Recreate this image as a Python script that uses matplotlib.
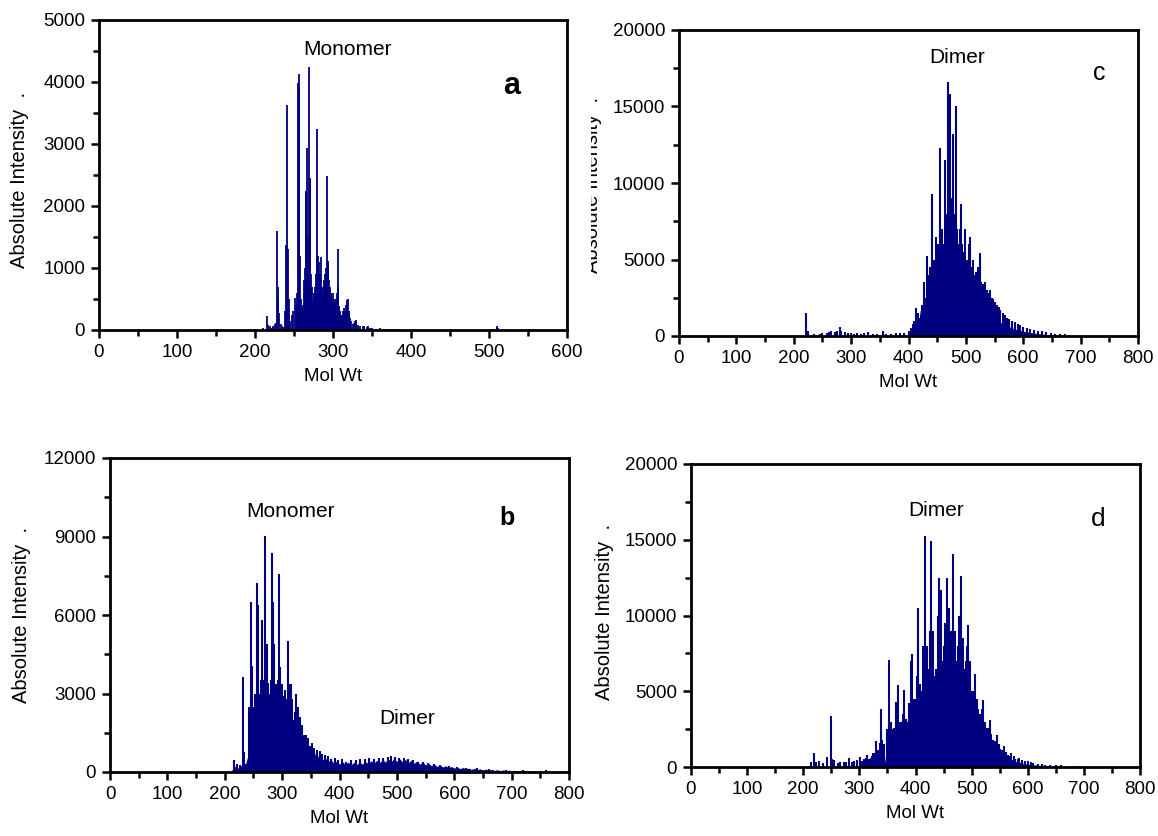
import numpy as np
import matplotlib.pyplot as plt
from matplotlib.transforms import Bbox

plt.rcParams['font.family'] = ['Liberation Sans', 'DejaVu Sans']
navy = '#000080'

# panel a - monomer (peaks)
a_mz = [210, 215, 217, 219, 221, 223, 225, 227, 228, 229, 230, 231, 233, 235, 237, 239,
        240, 241, 242, 243, 245, 247, 249, 251, 252, 253, 254, 255, 256, 257, 258, 259,
        260, 261, 262, 263, 264, 265, 266, 267, 268, 269, 270, 271, 272, 273, 274, 275,
        276, 277, 278, 279, 280, 281, 282, 283, 284, 285, 286, 287, 288, 289, 290, 291,
        292, 293, 294, 295, 296, 297, 298, 299, 300, 301, 302, 303, 304, 305, 306, 307,
        308, 309, 310, 311, 312, 313, 314, 315, 316, 317, 318, 319, 320, 321, 322, 323,
        325, 327, 328, 329, 330, 332, 335, 338, 340, 343, 345, 348, 350, 355, 360, 365,
        370, 375, 380, 385, 390, 505, 510, 512]
a_int = [30, 220, 80, 60, 40, 70, 90, 120, 1590, 700, 460, 280, 100, 60, 50, 300,
         1370, 3630, 1300, 500, 150, 250, 300, 520, 400, 260, 600, 3980, 4130, 3900, 1200, 500,
         350, 250, 400, 800, 1000, 2240, 2240, 2930, 1500, 4240, 2450, 2380, 900, 700, 450, 600,
         500, 700, 900, 3240, 1200, 1200, 1100, 900, 1170, 800, 600, 700, 650, 800, 900, 1000,
         2480, 1060, 1120, 800, 700, 600, 550, 500, 600, 500, 450, 400, 500, 600, 1300, 700,
         380, 300, 250, 200, 250, 300, 350, 300, 250, 400, 480, 500, 300, 250, 200, 150,
         100, 120, 150, 160, 140, 80, 60, 70, 60, 50, 60, 40, 30, 20, 25, 15,
         20, 15, 15, 10, 5, 20, 60, 30]

# panel b - monomer + dimer
b_mz = [216, 222, 226, 231, 233, 237, 243, 245, 247, 250, 253, 256, 258, 261, 263, 265,
        267, 269, 271, 273, 275, 278, 280, 282, 284, 286, 288, 290, 292, 294, 297, 299,
        301, 303, 305, 307, 310, 313, 315, 317, 320, 322, 324, 327, 329, 331, 335, 338,
        342, 345, 349, 352, 356, 361, 366, 370, 375, 380, 386, 392, 398, 405, 412, 420,
        428, 436, 445, 452, 460, 468, 476, 484, 490, 497, 504, 512, 520, 528, 536, 545,
        555, 565, 575, 590, 605, 620, 640, 660, 690, 720, 760, 790]
b_int = [450, 300, 250, 3630, 760, 300, 2480, 6510, 4070, 2500, 3000, 7210, 6380, 3000, 3500, 5790,
         3500, 3200, 9030, 4890, 3400, 3000, 3500, 8370, 6490, 4900, 3000, 3370, 3500, 7560, 4000, 3370,
         2900, 2800, 3120, 2800, 5020, 3370, 3370, 2800, 2000, 2300, 2990, 2500, 1900, 2100, 1800, 1400,
         1400, 1300, 1000, 1100, 900, 850, 800, 700, 650, 600, 500, 550, 450, 500, 400, 450,
         450, 500, 480, 550, 500, 550, 530, 560, 600, 580, 530, 520, 480, 450, 400, 380,
         330, 300, 260, 220, 180, 160, 140, 100, 90, 70, 60, 50]
b_env_mz = list(range(210, 805, 5))
b_env = [0, 150, 250, 100, 300, 200, 600, 1800, 2200, 2800, 2000, 3000, 2400, 3200, 2600, 3000,
         2400, 2700, 2100, 2400, 1800, 2100, 1500, 1700, 1100, 1300, 850, 1000, 650, 800, 550, 650,
         450, 550, 380, 480, 330, 420, 300, 400, 280, 380, 270, 370, 280, 380, 300, 400,
         320, 430, 340, 450, 360, 470, 380, 500, 390, 520, 400, 500, 380, 480, 360, 450,
         330, 420, 300, 380, 270, 340, 240, 300, 210, 270, 190, 240, 170, 210, 150, 190,
         130, 170, 120, 150, 100, 140, 90, 120, 80, 110, 70, 100, 60, 90, 50, 80,
         50, 70, 40, 60, 40, 50, 30, 50, 30, 40, 30, 40, 20, 40, 20, 30,
         20, 30, 15, 25, 15, 20, 10]

# panel c - dimer
c_mz = [222, 224, 235, 245, 250, 258, 262, 265, 272, 276, 280, 283, 290, 295, 300, 305,
        310, 318, 322, 330, 338, 345, 355, 360, 370, 378, 385, 392, 400, 404, 408, 410,
        413, 416, 418, 421, 424, 427, 430, 432, 434, 436, 438, 441, 444, 446, 448, 450,
        452, 455, 458, 460, 463, 466, 469, 472, 475, 477, 480, 482, 485, 487, 489, 491,
        494, 496, 499, 501, 503, 505, 507, 510, 512, 515, 518, 521, 524, 527, 530, 533,
        536, 539, 542, 545, 548, 551, 554, 557, 560, 564, 568, 572, 576, 580, 585, 590,
        595, 600, 606, 612, 618, 625, 632, 640, 648, 656, 664, 672, 680]
c_int = [1500, 300, 100, 150, 200, 200, 250, 300, 250, 300, 600, 300, 250, 200, 200, 150,
         200, 150, 180, 250, 150, 150, 300, 150, 150, 200, 200, 200, 300, 500, 800, 1000,
         1800, 1500, 1200, 1400, 2000, 3500, 2500, 5200, 3500, 4000, 4500, 9300, 5000, 5000, 6500, 5500,
         6000, 12300, 7000, 6000, 11500, 8000, 16600, 15800, 9000, 13200, 8000, 15000, 7000, 6000, 7000, 8600,
         6000, 5500, 7000, 5000, 5000, 6000, 6500, 4500, 5000, 4000, 4200, 4500, 5400, 3500, 3400, 3500,
         3000, 2800, 3000, 2500, 2400, 2200, 2000, 1900, 1700, 1500, 1400, 1200, 1100, 1000, 900, 800,
         700, 600, 500, 450, 400, 350, 300, 250, 200, 150, 120, 100, 80]
c_env_mz = [400, 405, 410, 416, 418, 420, 428, 430, 432, 442, 444, 446, 456, 458, 460, 470,
            472, 474, 484, 486, 488, 498, 500, 502, 512, 514, 516, 526, 528, 530, 540, 542,
            544, 554, 556, 558, 568, 570, 572, 585, 600, 620, 640, 660, 680]
c_env = [0, 300, 800, 1200, 300, 1600, 2400, 400, 2800, 3500, 500, 3800, 4300, 500, 4500, 4600,
         500, 4500, 4200, 500, 4000, 3400, 450, 3200, 2700, 400, 2500, 2000, 350, 1900, 1500, 300,
         1400, 1000, 250, 950, 700, 200, 650, 450, 300, 180, 100, 50, 0]

# panel d - dimer
d_mz = [213, 219, 222, 228, 236, 243, 250, 252, 255, 262, 265, 272, 276, 281, 286, 290,
        295, 302, 305, 308, 311, 314, 317, 320, 322, 325, 328, 330, 333, 336, 338, 341,
        344, 350, 353, 356, 358, 362, 365, 368, 371, 374, 377, 380, 383, 386, 389, 392,
        394, 397, 400, 402, 404, 405, 408, 411, 414, 417, 420, 422, 425, 428, 431, 434,
        437, 440, 442, 445, 448, 451, 453, 456, 459, 462, 464, 467, 470, 473, 476, 478,
        481, 484, 487, 490, 492, 494, 497, 500, 503, 506, 509, 512, 515, 518, 520, 523,
        526, 529, 532, 535, 538, 541, 545, 548, 551, 555, 558, 561, 564, 568, 571, 575,
        578, 582, 585, 590, 595, 600, 605, 610, 618, 625, 630, 640, 650, 660, 670, 680,
        690, 700]
d_int = [300, 950, 300, 400, 250, 660, 3340, 500, 440, 250, 300, 350, 300, 590, 350, 400,
         450, 660, 400, 500, 600, 770, 550, 600, 700, 920, 900, 1690, 1100, 1600, 3800, 1800,
         1500, 2500, 7080, 3000, 2500, 2600, 4300, 5390, 3000, 3000, 3500, 5060, 3200, 3000, 4200, 6970,
         7430, 4500, 4500, 6000, 10510, 8470, 5500, 5000, 8000, 15280, 8000, 6500, 9000, 14890, 9000, 6000,
         6500, 10000, 12490, 11700, 7000, 8000, 9500, 12490, 10500, 7500, 9000, 14030, 9000, 7000, 8000, 10000,
         12620, 8500, 6500, 7000, 8000, 9350, 7000, 5000, 5000, 6160, 4500, 3800, 3500, 3800, 4400, 3000,
         2600, 2600, 3130, 2200, 1800, 1700, 2090, 1500, 1200, 1100, 1360, 1000, 800, 750, 920, 700,
         550, 500, 590, 450, 380, 390, 300, 260, 210, 180, 150, 130, 110, 100, 90, 80,
         60, 50]
d_env_mz = [320, 330, 340, 344, 346, 348, 358, 360, 362, 372, 374, 376, 384, 386, 388, 397,
            399, 401, 409, 411, 413, 420, 422, 424, 433, 435, 437, 447, 449, 451, 459, 461,
            463, 472, 474, 476, 485, 487, 489, 498, 500, 502, 511, 513, 515, 524, 526, 528,
            536, 538, 540, 549, 551, 553, 562, 564, 566, 575, 577, 579, 590, 600, 620, 640,
            660, 680, 700]
d_env = [100, 500, 900, 1000, 300, 1200, 1800, 350, 2000, 2500, 400, 2700, 3200, 450, 3400, 4000,
         500, 4200, 4600, 550, 4800, 5200, 550, 5300, 5500, 600, 5500, 5500, 600, 5400, 5200, 600,
         5100, 4800, 550, 4600, 4200, 550, 4000, 3500, 500, 3300, 2800, 450, 2600, 2100, 400, 1900,
         1500, 350, 1400, 1000, 300, 900, 650, 250, 600, 420, 200, 380, 250, 180, 110, 70,
         40, 20, 0]


fig = plt.figure(figsize=(11.58, 8.36), dpi=100)
W, H = 1158, 836


def make_ax(l, r, t, b):
    return fig.add_axes([l / W, 1 - b / H, (r - l) / W, (b - t) / H])


def style(ax, xmax, ymax, ystep):
    ax.set_xlim(0, xmax)
    ax.set_ylim(0, ymax)
    ax.set_xticks(np.arange(0, xmax + 1, 100))
    ax.set_xticks(np.arange(50, xmax, 100), minor=True)
    ax.set_yticks(np.arange(0, ymax + 1, ystep))
    ax.set_yticks(np.arange(ystep / 2, ymax, ystep), minor=True)
    ax.tick_params(which='major', direction='out', length=6, width=1.8, labelsize=13.5, pad=4)
    ax.tick_params(which='minor', direction='out', length=4, width=1.8)
    for s in ax.spines.values():
        s.set_linewidth(2)
    ax.set_xlabel('Mol Wt', fontsize=13.5, labelpad=5)


axa = make_ax(99, 567, 20, 330)
axa.vlines(a_mz, 0, a_int, color=navy, lw=1.3)
style(axa, 600, 5000, 1000)
axa.text(318, 4530, 'Monomer', fontsize=15, ha='center', va='center')
axa.text(529, 3930, 'a', fontsize=22, fontweight='bold', ha='center', va='center')

axb = make_ax(110, 569, 458, 772)
axb.fill_between(b_env_mz, b_env, color=navy, lw=0)
axb.vlines(b_mz, 0, b_int, color=navy, lw=1.5)
style(axb, 800, 12000, 3000)
axb.text(315, 9940, 'Monomer', fontsize=15, ha='center', va='center')
axb.text(692, 9700, 'b', fontsize=18, fontweight='bold', ha='center', va='center')
axb.text(517, 2060, 'Dimer', fontsize=15, ha='center', va='center')

axc = make_ax(679, 1138, 30, 336)
axc.fill_between(c_env_mz, c_env, color=navy, lw=0)
axc.vlines(c_mz, 0, c_int, color=navy, lw=1.5)
style(axc, 800, 20000, 5000)
axc.text(484, 18170, 'Dimer', fontsize=15, ha='center', va='center')
axc.text(733, 17190, 'c', fontsize=18, ha='center', va='center')

axd = make_ax(691, 1140, 464, 767)
axd.fill_between(d_env_mz, d_env, color=navy, lw=0)
axd.vlines(d_mz, 0, d_int, color=navy, lw=1.5)
style(axd, 800, 20000, 5000)
axd.text(437, 16940, 'Dimer', fontsize=15, ha='center', va='center')
axd.text(725, 16400, 'd', fontsize=19, ha='center', va='center')

# y labels
ylab = 'Absolute Intensity  .'
fig.text(20 / W, 1 - 180 / H, ylab, rotation=90, fontsize=14.5, ha='center', va='center')
fig.text(22 / W, 1 - 615 / H, ylab, rotation=90, fontsize=14.5, ha='center', va='center')
fig.text(605 / W, 1 - 612 / H, ylab, rotation=90, fontsize=14.5, ha='center', va='center')
# panel c label is cut off on its left half in the original
tc = fig.text(593 / W, 1 - 185 / H, ylab, rotation=90, fontsize=14.5, ha='center', va='center')
tc.set_clip_box(Bbox.from_extents(591, 0, 612, H))
tc.set_clip_on(True)

fig.savefig('out.png', dpi=100)
